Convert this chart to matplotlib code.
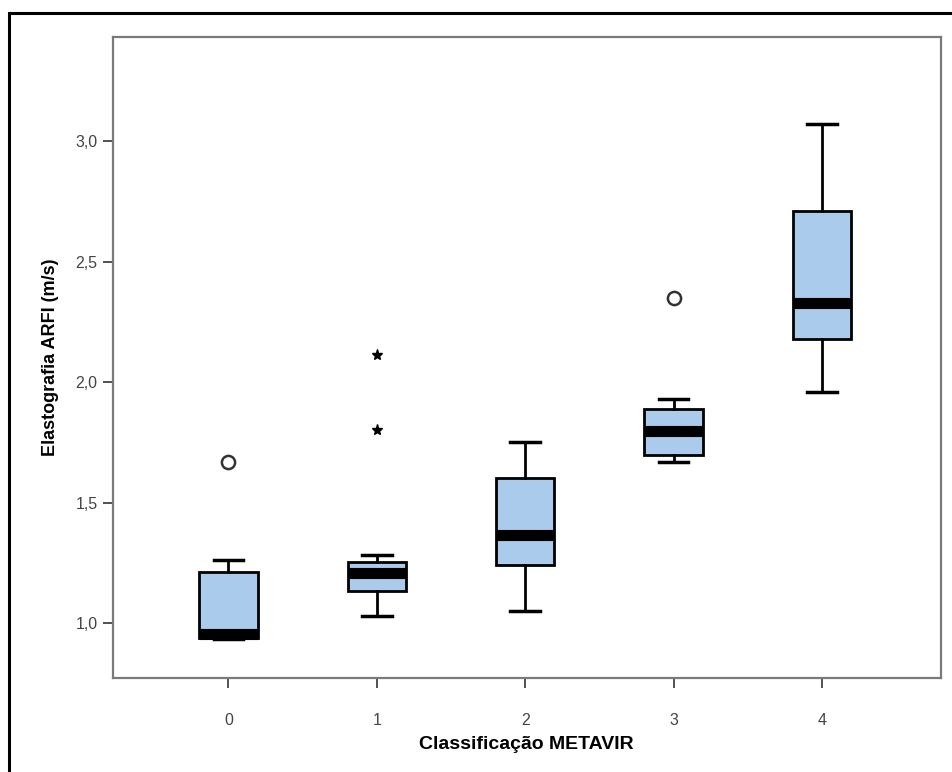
import matplotlib.pyplot as plt
from matplotlib.patches import Rectangle

plt.rcParams['font.family'] = ['Liberation Sans', 'DejaVu Sans']

# METAVIR classes and box statistics
categories = ['0', '1', '2', '3', '4']
whisker_low = [0.934, 1.030, 1.051, 1.670, 1.959]
q1 = [0.938, 1.134, 1.240, 1.699, 2.180]
medians = [0.956, 1.210, 1.365, 1.799, 2.329]
q3 = [1.213, 1.253, 1.601, 1.890, 2.709]
whisker_high = [1.261, 1.283, 1.750, 1.930, 3.069]
outliers_circle = [[1.670], [], [], [2.347], []]
outliers_star = [[], [1.800, 2.112], [], [], []]

yticks = [1.0, 1.5, 2.0, 2.5, 3.0]
ytick_labels = ['1,0', '1,5', '2,0', '2,5', '3,0']

fig = plt.figure(figsize=(9.52, 7.72), dpi=100)
ax = fig.add_axes([0.1184, 0.1214, 0.8696, 0.8306])

stats = []
for i in range(len(categories)):
    stats.append({'whislo': whisker_low[i], 'q1': q1[i], 'med': medians[i],
                  'q3': q3[i], 'whishi': whisker_high[i], 'fliers': []})

positions = list(range(len(categories)))
ax.bxp(stats, positions=positions, widths=0.394, patch_artist=True,
       showfliers=False, capwidths=0.2,
       boxprops=dict(facecolor='#AACBEC', edgecolor='black', linewidth=2),
       medianprops=dict(color='black', linewidth=8, solid_capstyle='butt'),
       whiskerprops=dict(color='black', linewidth=2),
       capprops=dict(color='black', linewidth=2.5))

for i, vals in enumerate(outliers_circle):
    if vals:
        ax.plot([i] * len(vals), vals, 'o', markersize=9.5, markerfacecolor='white',
                markeredgecolor='#333333', markeredgewidth=1.8)
for i, vals in enumerate(outliers_star):
    if vals:
        ax.plot([i] * len(vals), vals, '*', markersize=8, color='black')

ax.set_xlim(-0.78, 4.80)
ax.set_ylim(0.772, 3.431)
ax.set_xticks(positions)
ax.set_xticklabels(categories)
ax.set_yticks(yticks)
ax.set_yticklabels(ytick_labels)
ax.tick_params(axis='both', direction='out', length=7, width=1.2, colors='#333333',
               labelsize=11.5, labelcolor='#444444')
ax.tick_params(axis='x', pad=18)
ax.tick_params(axis='y', pad=4)
for s in ax.spines.values():
    s.set_color('#7a7a7a')
    s.set_linewidth(1.6)

ax.set_xlabel('Classificação METAVIR', fontsize=14, fontweight='bold', labelpad=6)
ax.set_ylabel('Elastografia ARFI (m/s)', fontsize=13, fontweight='bold', labelpad=12)

# outer frame of the original export
fig.patches.append(Rectangle((8.5 / 952, -0.1), 1.2, 1 - 13 / 772 + 0.1,
                             transform=fig.transFigure, fill=False,
                             edgecolor='black', linewidth=2.2))

fig.savefig('out.png', dpi=100)
